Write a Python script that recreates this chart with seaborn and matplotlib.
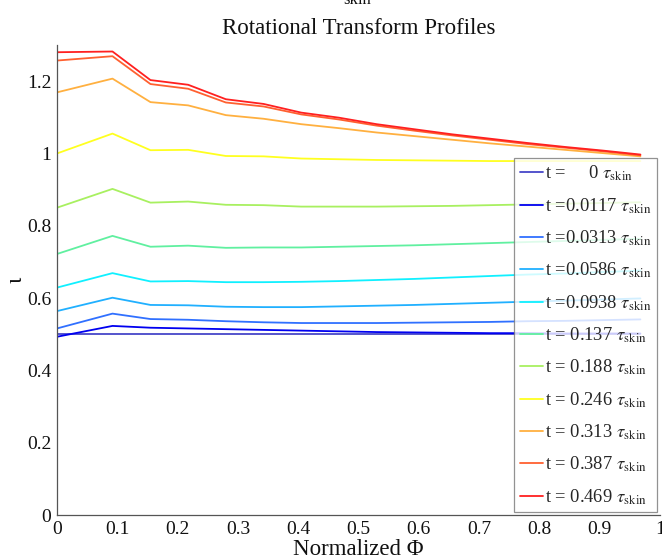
import matplotlib
matplotlib.use("Agg")
import matplotlib.pyplot as plt
import seaborn as sns
import pandas as pd

phi = [0, 0.092, 0.155, 0.2175, 0.28, 0.3425, 0.405, 0.4675, 0.53, 0.5925,
       0.655, 0.7175, 0.78, 0.8425, 0.905, 0.9675]

t_labels = ["t =     0", "t =0.0117", "t =0.0313", "t =0.0586", "t =0.0938",
            "t = 0.137", "t = 0.188", "t = 0.246", "t = 0.313", "t = 0.387",
            "t = 0.469"]

iota_t0000 = [0.500] * 16
iota_t0117 = [0.493, 0.523, 0.518, 0.516, 0.514, 0.512, 0.510, 0.508, 0.506, 0.505,
              0.504, 0.503, 0.503, 0.502, 0.502, 0.502]
iota_t0313 = [0.516, 0.557, 0.542, 0.540, 0.536, 0.533, 0.531, 0.531, 0.531, 0.532,
              0.533, 0.534, 0.536, 0.537, 0.539, 0.541]
iota_t0586 = [0.564, 0.601, 0.581, 0.580, 0.576, 0.575, 0.575, 0.577, 0.579, 0.581,
              0.584, 0.587, 0.590, 0.593, 0.596, 0.599]
iota_t0938 = [0.629, 0.669, 0.646, 0.647, 0.644, 0.644, 0.645, 0.647, 0.650, 0.653,
              0.657, 0.661, 0.665, 0.668, 0.672, 0.676]
iota_t137 = [0.722, 0.772, 0.742, 0.745, 0.739, 0.740, 0.740, 0.742, 0.744, 0.746,
             0.749, 0.752, 0.755, 0.758, 0.761, 0.764]
iota_t188 = [0.850, 0.902, 0.864, 0.867, 0.858, 0.857, 0.853, 0.853, 0.853, 0.854,
             0.855, 0.857, 0.859, 0.861, 0.863, 0.865]
iota_t246 = [1.000, 1.055, 1.009, 1.010, 0.993, 0.992, 0.986, 0.984, 0.982, 0.981,
             0.980, 0.979, 0.979, 0.979, 0.979, 0.979]
iota_t313 = [1.169, 1.207, 1.142, 1.133, 1.106, 1.096, 1.081, 1.070, 1.058, 1.048,
             1.038, 1.028, 1.019, 1.010, 1.001, 0.992]
iota_t387 = [1.257, 1.269, 1.192, 1.179, 1.141, 1.130, 1.108, 1.094, 1.077, 1.063,
             1.050, 1.038, 1.026, 1.016, 1.006, 0.995]
iota_t469 = [1.280, 1.282, 1.203, 1.190, 1.150, 1.137, 1.113, 1.099, 1.081, 1.067,
             1.053, 1.041, 1.029, 1.018, 1.008, 0.997]

series = [iota_t0000, iota_t0117, iota_t0313, iota_t0586, iota_t0938, iota_t137,
          iota_t188, iota_t246, iota_t313, iota_t387, iota_t469]

colors = ["#4646c8", "#0000f0", "#3070ff", "#20b0ff", "#10f0ff", "#60f0a0",
          "#a8f060", "#ffff20", "#ffb040", "#ff6030", "#ff2020"]

sns.set_style("white")
plt.rcParams["font.family"] = ["Liberation Serif", "DejaVu Serif"]
plt.rcParams["mathtext.fontset"] = "stix"

rows = []
for lab, vals in zip(t_labels, series):
    for x, v in zip(phi, vals):
        rows.append({"phi": x, "iota": v, "t": lab})
df = pd.DataFrame(rows)

fig = plt.figure(figsize=(6.62, 5.6), dpi=100)
ax = fig.add_axes([57 / 662, 1 - 515 / 560, 603 / 662, 470 / 560])

sns.lineplot(data=df, x="phi", y="iota", hue="t", hue_order=t_labels,
             palette=colors, sort=False, linewidth=1.3, ax=ax, legend=False)

ax.set_xlim(0, 1)
ax.set_ylim(0, 1.3)
ax.set_xticks([0, 0.1, 0.2, 0.3, 0.4, 0.5, 0.6, 0.7, 0.8, 0.9, 1])
ax.set_xticklabels(["0", "0.1", "0.2", "0.3", "0.4", "0.5", "0.6", "0.7", "0.8", "0.9", "1"])
ax.set_yticks([0, 0.2, 0.4, 0.6, 0.8, 1, 1.2])
ax.set_yticklabels(["0", "0.2", "0.4", "0.6", "0.8", "1", "1.2"])
ax.tick_params(direction="in", length=5, width=0.8, colors="#555555",
               labelcolor="#111111", labelsize=14, pad=4)
for s in ["top", "right"]:
    ax.spines[s].set_visible(False)
for s in ["left", "bottom"]:
    ax.spines[s].set_color("#555555")
    ax.spines[s].set_linewidth(0.9)

ax.set_xlabel("Normalized \u03a6", fontsize=16.5, color="#111111", labelpad=1)
ax.set_ylabel("\u03b9", fontsize=17, color="#111111", labelpad=0)
ax.set_title("Rotational Transform Profiles", fontsize=16.5, color="#111111", pad=8)
fig.text(357 / 662, 1 - 4 / 560, "skin", fontsize=12, ha="center", va="baseline",
         color="#111111")

handles = ax.get_lines()[:len(t_labels)]
leg_labels = [lab + " $\\tau_{\\mathrm{skin}}$" for lab in t_labels]
leg = ax.legend(handles, leg_labels, loc="lower right", bbox_to_anchor=(0.995, 0.006),
                fontsize=13.3, frameon=True, fancybox=False, handlelength=1.25,
                handletextpad=0.1, labelspacing=0.7, borderpad=0.3, borderaxespad=0)
leg.get_frame().set_edgecolor("#777777")
leg.get_frame().set_linewidth(0.9)

fig.savefig("out.png", dpi=100)
